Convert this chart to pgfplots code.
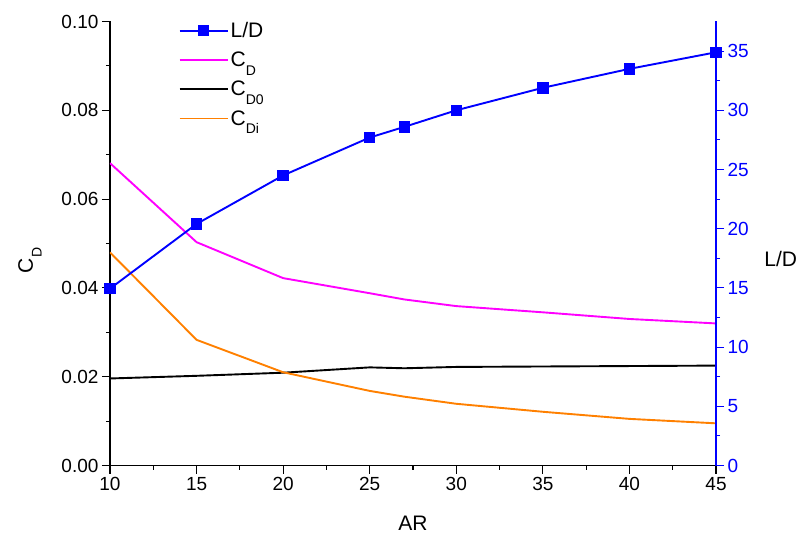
\documentclass[border=0pt]{standalone}
\usepackage{pgfplots}
\pgfplotsset{compat=1.18}
\usepackage{fontspec}
\setmainfont{Liberation Sans}

\definecolor{cdcol}{RGB}{255,0,255}
\definecolor{dicol}{RGB}{255,128,0}
\definecolor{ldcol}{RGB}{0,0,255}

\newcommand{\sub}[1]{\raisebox{-0.42em}{\fontsize{14}{14}\selectfont #1}}

\pgfplotsset{
  base/.style={
    width=606pt, height=444pt, scale only axis,
    xmin=10, xmax=45,
    xtick={10,15,20,25,30,35,40,45},
    minor x tick num=1,
    tick align=outside,
    major tick length=8pt, minor tick length=4pt,
    axis line style={-, line width=1.3pt},
    every tick/.style={line width=1.1pt},
    tick label style={font=\fontsize{19}{20}\selectfont},
    label style={font=\fontsize{21}{22}\selectfont},
    /pgf/number format/assume math mode=true,
  },
}

\begin{document}
\begin{tikzpicture}
\path[use as bounding box] (-110pt,-72.5pt) rectangle (687pt,465.5pt);

\begin{axis}[base,
    axis x line*=bottom, axis y line*=left,
    ymin=0, ymax=0.1,
    ytick={0,0.02,0.04,0.06,0.08,0.1},
    minor y tick num=1,
    yticklabel style={/pgf/number format/.cd, fixed, fixed zerofill, precision=2},
    xlabel={AR},
    xlabel style={at={(axis description cs:0.5,-0.1295)}, anchor=center},
    ylabel={C\sub{D}},
    ylabel style={at={(axis description cs:-0.132,0.462)}, anchor=center},
  ]
  % C_D
  \addplot[cdcol, line width=1.9pt] coordinates {
    (10,0.0681)(15,0.0503)(20,0.0422)(25,0.0388)(27,0.0374)(30,0.0359)(35,0.0345)(40,0.0330)(45,0.0320)};
  % C_D0
  \addplot[black, line width=1.9pt] coordinates {
    (10,0.0196)(15,0.0202)(20,0.0209)(25,0.0221)(27,0.0219)(30,0.0222)(35,0.0223)(40,0.0224)(45,0.0225)};
  % C_Di
  \addplot[dicol, line width=1.9pt] coordinates {
    (10,0.0480)(15,0.0283)(20,0.0210)(25,0.0168)(27,0.0155)(30,0.0139)(35,0.0121)(40,0.0105)(45,0.0095)};
\end{axis}

\begin{axis}[base,
    axis x line=none, axis y line*=right,
    ymin=0, ymax=37.5,
    ytick={0,5,10,15,20,25,30,35},
    minor y tick num=1,
    axis line style={ldcol},
    y tick style={ldcol},
    yticklabel style={text=ldcol},
    ylabel={L/D},
    ylabel style={at={(axis description cs:1.074,0.464)}, anchor=west, rotate=-90},
    legend style={draw=none, fill=none, at={(axis description cs:0.113,1.003)}, anchor=north west,
      font=\fontsize{21}{22}\selectfont, row sep=9pt, inner sep=0pt},
    legend cell align=left,
    legend image code/.code={\draw[mark repeat=2,mark phase=2,#1] plot coordinates {(0pt,0pt) (24pt,0pt) (48pt,0pt)};},
  ]
  \addplot[ldcol, line width=1.9pt, mark=square*, mark size=4.8pt] coordinates {
    (10,14.94)(15,20.4)(20,24.5)(25,27.7)(27,28.6)(30,30.0)(35,31.9)(40,33.5)(45,34.9)};
  \addlegendentry{L/D}
  \addlegendimage{cdcol, line width=2pt}
  \addlegendentry{C\sub{D}}
  \addlegendimage{black, line width=1.9pt}
  \addlegendentry{C\sub{D0}}
  \addlegendimage{dicol, line width=1.9pt}
  \addlegendentry{C\sub{Di}}
\end{axis}
\end{tikzpicture}
\end{document}
